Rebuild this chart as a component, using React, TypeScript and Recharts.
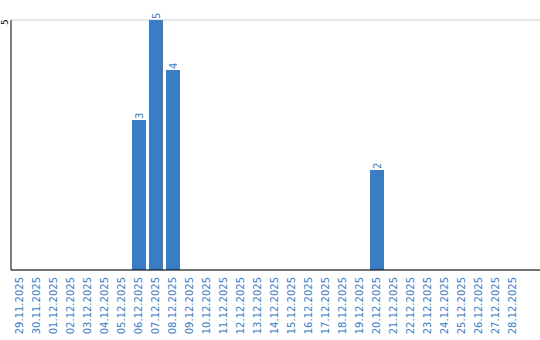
import { Bar, BarChart, CartesianGrid, LabelList, XAxis, YAxis } from 'recharts';

const DATES = [
  '29.11.2025', '30.11.2025', '01.12.2025', '02.12.2025', '03.12.2025', '04.12.2025',
  '05.12.2025', '06.12.2025', '07.12.2025', '08.12.2025', '09.12.2025', '10.12.2025',
  '11.12.2025', '12.12.2025', '13.12.2025', '14.12.2025', '15.12.2025', '16.12.2025',
  '17.12.2025', '18.12.2025', '19.12.2025', '20.12.2025', '21.12.2025', '22.12.2025',
  '23.12.2025', '24.12.2025', '25.12.2025', '26.12.2025', '27.12.2025', '28.12.2025',
];
const COUNTS = [0, 0, 0, 0, 0, 0, 0, 3, 5, 4, 0, 0, 0, 0, 0, 0, 0, 0, 0, 0, 0, 2, 0, 0, 0, 0, 0, 0, 0, 0];
const Y_TICKS = [5];

const BLUE = '#3b7dc4';
const FONT = 'DejaVu Sans, sans-serif';

const rows = DATES.map((date, i) => ({ date, count: COUNTS[i] }));

function DateTick({ x, payload }: any) {
  const ty = 277;
  return (
    <text
      x={x}
      y={ty}
      transform={`rotate(-90 ${x} ${ty})`}
      textAnchor="end"
      dominantBaseline="central"
      fill={BLUE}
      fontSize={10}
      fontFamily={FONT}
    >
      {payload.value}
    </text>
  );
}

function CountTick({ y, payload }: any) {
  const ty = y + 2;
  return (
    <text
      x={5}
      y={ty}
      transform={`rotate(-90 5 ${ty})`}
      textAnchor="middle"
      dominantBaseline="central"
      fill="#000"
      fontSize={9}
      fontFamily={FONT}
    >
      {payload.value}
    </text>
  );
}

function BarValue({ x, y, width, value }: any) {
  if (!value) return null;
  const cx = x + width / 2;
  return (
    <text
      x={cx}
      y={y - 1}
      transform={`rotate(-90 ${cx} ${y - 1})`}
      textAnchor="start"
      dominantBaseline="central"
      fill={BLUE}
      fontSize={10}
      fontFamily={FONT}
    >
      {value}
    </text>
  );
}

export default function App() {
  return (
    <div style={{ position: 'absolute', left: 0, top: 0, width: 540, height: 340, overflow: 'hidden' }}>
      <BarChart width={540} height={340} data={rows} margin={{ top: 20, right: 0, bottom: 0, left: 0 }}>
        <CartesianGrid vertical={false} stroke="#cccccc" />
        <XAxis
          dataKey="date"
          interval={0}
          height={70}
          padding={{ left: 0, right: 19 }}
          axisLine={{ stroke: '#000' }}
          tickLine={false}
          tick={<DateTick />}
        />
        <YAxis
          width={11}
          domain={[0, 5]}
          ticks={Y_TICKS}
          axisLine={{ stroke: '#000' }}
          tickLine={false}
          tick={<CountTick />}
        />
        <Bar dataKey="count" fill={BLUE} barSize={14} isAnimationActive={false}>
          <LabelList dataKey="count" content={<BarValue />} />
        </Bar>
      </BarChart>
    </div>
  );
}
